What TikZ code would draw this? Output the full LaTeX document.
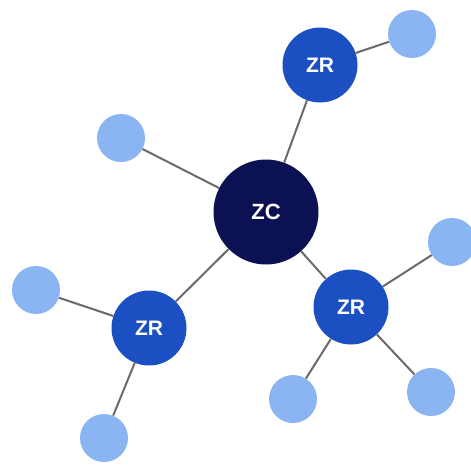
\documentclass[tikz,border=0pt]{standalone}
\usepackage{fontspec}
\setmainfont{Liberation Sans}
\definecolor{hubcol}{HTML}{0B1152}
\definecolor{zrcol}{HTML}{1B4FC2}
\definecolor{leafcol}{HTML}{8BB5F2}
\definecolor{edgecol}{HTML}{6A6A6A}
\tikzset{
  hub/.style={circle, fill=hubcol, minimum size=105pt, inner sep=0pt, text=white, font=\fontsize{22}{22}\selectfont\bfseries},
  zr/.style={circle, fill=zrcol, minimum size=75pt, inner sep=0pt, text=white, font=\fontsize{21}{21}\selectfont\bfseries},
  leaf/.style={circle, fill=leafcol, minimum size=48pt, inner sep=0pt},
  link/.style={draw=edgecol, line width=2pt}
}
\begin{document}
\begin{tikzpicture}[x=1pt, y=-1pt]
  \useasboundingbox (0,0) rectangle (471,464);
  % hub, relays and leaves
  \node[hub] (zc) at (266,212) {ZC};
  \node[zr] (zr1) at (320,65) {ZR};
  \node[zr] (zr2) at (149,328) {ZR};
  \node[zr] (zr3) at (351,307) {ZR};
  \node[leaf] (l1) at (412,34) {};
  \node[leaf] (l2) at (121,138) {};
  \node[leaf] (l3) at (36,290) {};
  \node[leaf] (l4) at (104,438) {};
  \node[leaf] (l5) at (452,242) {};
  \node[leaf] (l6) at (293,399) {};
  \node[leaf] (l7) at (431,392) {};
  % links between the circles
  \path[link] (zc) -- (zr1) (zc) -- (zr2) (zc) -- (zr3) (zc) -- (l2)
    (zr1) -- (l1) (zr2) -- (l3) (zr2) -- (l4)
    (zr3) -- (l5) (zr3) -- (l6) (zr3) -- (l7);
\end{tikzpicture}
\end{document}
